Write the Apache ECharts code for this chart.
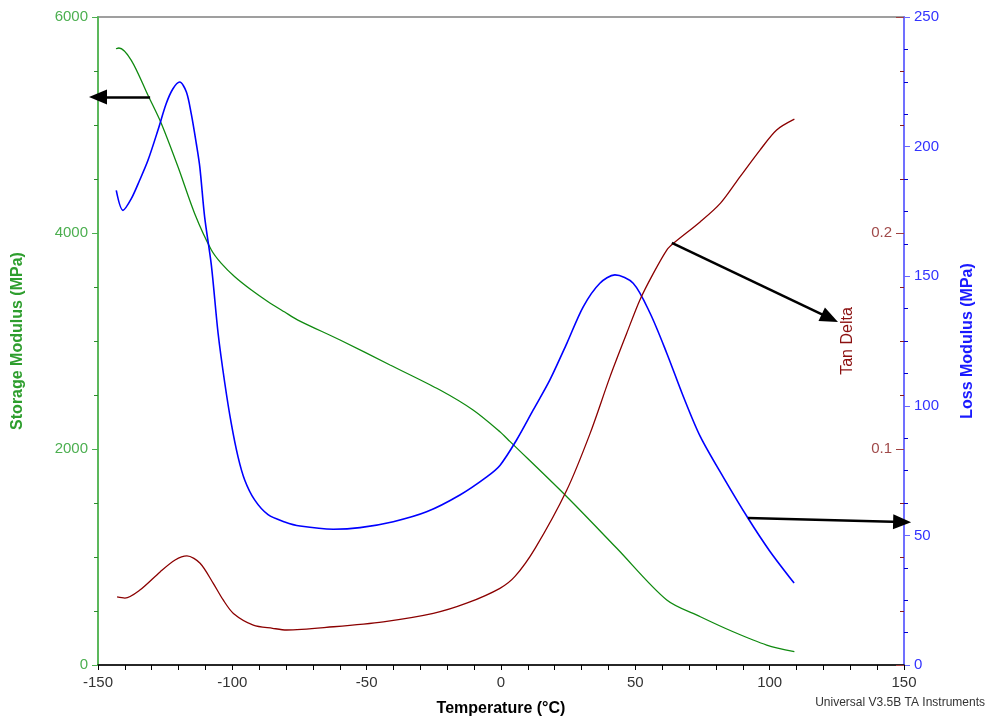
<!DOCTYPE html>
<html>
<head>
<meta charset="utf-8">
<script src="https://cdn.jsdelivr.net/npm/echarts@6/dist/echarts.min.js"></script>
<style>html,body{margin:0;padding:0;background:#fff}#c{width:988px;height:718px}</style>
</head>
<body>
<div id="c"></div>
<script>
// Storage modulus (MPa) vs temperature (°C)
var storageT = [-143.3,-142.2,-137.6,-131.4,-126.4,-120.2,-114.0,-107.8,-104.1,-99.1,-92.9,-86.7,-80.5,-75.6,-59.9,-41.3,-22.7,-10.4,-0.4,3.4,24.5,43.1,61.7,74.2,86.4,98.9,109.2];
var storageMPa = [5706,5713,5599,5275,5012,4611,4179,3843,3719,3595,3472,3364,3268,3194,3009,2778,2546,2361,2160,2068,1558,1081,602,447,308,185,123];
// Loss modulus (MPa)
var lossT = [-143.2,-140.7,-137.6,-134.5,-131.4,-127.7,-124.6,-122.1,-119.6,-117.1,-115.3,-113.4,-112.1,-110.3,-107.8,-105.3,-102.8,-100.4,-97.9,-95.4,-91.7,-86.7,-80.5,-74.8,-62.4,-52.5,-40.1,-27.7,-15.3,-5.3,-0.4,5.8,12.0,18.2,24.5,30.6,36.8,42.4,49.2,55.5,61.7,67.9,74.2,83.0,91.9,100.0,109.1];
var lossMPa = [183.1,175.4,179.9,187.0,194.7,206.3,216.6,222.3,224.9,221.1,212.7,201.1,192.1,172.8,154.2,128.0,108.7,93.2,80.4,71.4,63.7,58.0,55.2,53.6,52.4,53.0,55.3,59.1,65.6,72.6,77.0,86.8,98.4,110.0,124.1,138.2,147.3,150.5,147.3,135.7,120.3,103.5,88.1,72.0,56.7,44.0,31.6];
// Tan delta
var tanT = [-142.9,-140.0,-134.4,-126.9,-121.3,-116.9,-112.0,-107.1,-103.4,-99.6,-92.2,-85.0,-79.8,-62.4,-43.8,-25.2,-12.8,-0.4,5.2,12.7,24.5,33.1,40.6,46.8,51.7,56.7,61.7,64.2,74.2,81.7,89.0,96.4,102.6,109.2];
var tanDelta = [0.0315,0.031,0.0347,0.0431,0.0486,0.0505,0.0471,0.0378,0.0301,0.0239,0.0185,0.0170,0.0162,0.0177,0.0200,0.0239,0.0286,0.0355,0.041,0.054,0.081,0.107,0.1335,0.1536,0.169,0.1813,0.1921,0.1952,0.2052,0.2138,0.2261,0.2384,0.2477,0.2527];
// Annotation arrows (data coordinates): [fromT, fromV, toT, toV]
var storageArrow = [-130.6, 5259, -150, 5259];
var tanArrow = [63.6, 0.1954, 122.4, 0.1606];
var lossArrow = [91.9, 56.7, 149.3, 55.2];

function pairs(a, b) { return a.map(function (t, i) { return [t, b[i]]; }); }
function arrow(a) {
  return {
    silent: true, symbol: ['none', 'triangle'], symbolSize: [15, 18],
    label: { show: false }, lineStyle: { color: '#000', width: 2.5, type: 'solid' },
    emphasis: { disabled: true },
    data: [[{ coord: [a[0], a[1]] }, { coord: [a[2], a[3]] }]]
  };
}
var FONT = '"Liberation Sans", Arial, sans-serif';
var chart = echarts.init(document.getElementById('c'), null, { renderer: 'canvas' });
chart.setOption({
  animation: false,
  backgroundColor: '#fff',
  textStyle: { fontFamily: FONT },
  grid: { left: 98, right: 84, top: 17, bottom: 53, containLabel: false, outerBoundsMode: 'none', show: true, borderColor: '#808080', borderWidth: 1.5, backgroundColor: 'transparent' },
  xAxis: {
    type: 'value', min: -150, max: 150, interval: 50,
    name: 'Temperature (°C)', nameLocation: 'middle', nameGap: 36,
    nameTextStyle: { fontFamily: FONT, fontSize: 16, fontWeight: 'bold', color: '#000' },
    axisLine: { show: true, onZero: false, lineStyle: { color: '#000', width: 1.5 } },
    axisTick: { show: true, length: 5, lineStyle: { color: '#000' } },
    minorTick: { show: true, splitNumber: 5, length: 5, lineStyle: { color: '#000' } },
    splitLine: { show: false },
    axisLabel: { fontFamily: FONT, fontSize: 15, color: '#333', margin: 10 }
  },
  yAxis: [
    {
      type: 'value', position: 'left', min: 0, max: 6000, interval: 2000,
      name: 'Storage Modulus (MPa)', nameLocation: 'middle', nameGap: 72, nameRotate: 90,
      nameTextStyle: { fontFamily: FONT, fontSize: 16, fontWeight: 'bold', color: '#2e9e2e' },
      axisLine: { show: true, onZero: false, lineStyle: { color: '#5cb85c', width: 2 } },
      axisTick: { show: true, length: 6, lineStyle: { color: '#4caf50' } },
      minorTick: { show: true, splitNumber: 4, length: 4, lineStyle: { color: '#2e8b2e' } },
      splitLine: { show: false },
      axisLabel: { fontFamily: FONT, fontSize: 15, color: '#4caf50', margin: 10, formatter: function (v) { return String(v); } }
    },
    {
      type: 'value', position: 'right', min: 0, max: 250, interval: 50,
      name: 'Loss Modulus (MPa)', nameLocation: 'middle', nameGap: 56, nameRotate: 90,
      nameTextStyle: { fontFamily: FONT, fontSize: 16, fontWeight: 'bold', color: '#1a1aff' },
      axisLine: { show: true, onZero: false, lineStyle: { color: '#7070ff', width: 2 } },
      axisTick: { show: true, length: 6, lineStyle: { color: '#6666ff' } },
      minorTick: { show: true, splitNumber: 4, length: 4, lineStyle: { color: '#0000cc' } },
      splitLine: { show: false },
      axisLabel: { fontFamily: FONT, fontSize: 15, color: '#3333ff', margin: 10 }
    },
    {
      type: 'value', position: 'right', min: 0, max: 0.3, interval: 0.1,
      name: 'Tan Delta', nameLocation: 'middle', nameGap: -64, nameRotate: 90,
      nameTextStyle: { fontFamily: FONT, fontSize: 16, color: '#8b1010' },
      axisLine: { show: false, onZero: false },
      axisTick: { show: true, inside: true, length: 8, lineStyle: { color: '#a04040' } },
      minorTick: { show: true, splitNumber: 4, length: 4, lineStyle: { color: '#8b1a1a' } },
      splitLine: { show: false },
      axisLabel: {
        inside: true, fontFamily: FONT, fontSize: 15, color: '#a04a4a', margin: 12,
        formatter: function (v) { return (v > 0.05 && v < 0.25) ? v.toFixed(1) : ''; }
      }
    }
  ],
  series: [
    {
      type: 'line', name: 'Storage Modulus', yAxisIndex: 0, data: pairs(storageT, storageMPa),
      showSymbol: false, smooth: 0.3, lineStyle: { color: '#108a10', width: 1.3 },
      markLine: arrow(storageArrow)
    },
    {
      type: 'line', name: 'Loss Modulus', yAxisIndex: 1, data: pairs(lossT, lossMPa),
      showSymbol: false, smooth: 0.3, lineStyle: { color: '#0000ff', width: 1.6 },
      markLine: arrow(lossArrow)
    },
    {
      type: 'line', name: 'Tan Delta', yAxisIndex: 2, data: pairs(tanT, tanDelta),
      showSymbol: false, smooth: 0.3, lineStyle: { color: '#8b0000', width: 1.3 },
      markLine: arrow(tanArrow)
    }
  ],
  graphic: [{
    type: 'text', right: 3, top: 697,
    style: { text: 'Universal V3.5B TA Instruments', fontFamily: FONT, fontSize: 12, fill: '#333' }
  }]
});
</script>
</body>
</html>
